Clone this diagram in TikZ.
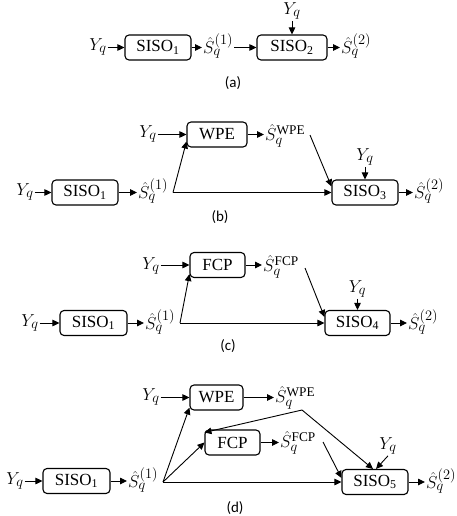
\documentclass[tikz,border=0pt]{standalone}
\usepackage{fontspec}
\setmainfont{Liberation Serif}
\newfontfamily\capfont{Carlito}
\usetikzlibrary{arrows.meta}
\begin{document}
\begin{tikzpicture}[x=1pt,y=-1pt,
 blk/.style={draw, line width=1.1pt, rounded corners=4pt, minimum height=25pt, inner sep=0pt, font=\fontsize{17}{20}\selectfont},
 mth/.style={inner sep=1pt, font=\fontsize{19}{22}\selectfont},
 sublbl/.style={inner sep=0pt, font=\capfont\fontsize{15}{18}\selectfont},
 arr/.style={line width=0.9pt, -{Triangle[length=7pt,width=6.5pt]}}]
\useasboundingbox (0,0) rectangle (456,516);
% (a)
\node[mth] (ya) at (98,47) {$Y_q$};
\node[blk, minimum width=66pt] (s1a) at (158,47.5) {SISO\textsubscript{1}};
\node[mth, anchor=west] (o1a) at (202,46) {$\hat{S}_q^{(1)}$};
\node[blk, minimum width=70pt] (s2a) at (292,47.5) {SISO\textsubscript{2}};
\node[mth] (yta) at (292,11) {$Y_q$};
\node[mth, anchor=west] (o2a) at (340,46) {$\hat{S}_q^{(2)}$};
\node[sublbl] (ca) at (233,83) {(a)};
\draw[arr] (ya.east |- s1a.west) -- (s1a.west);
\draw[arr] (s1a.east) -- (s1a.east -| o1a.west);
\draw[arr] (o1a.east |- s2a.west) -- (s2a.west);
\draw[arr] (yta.south) -- (s2a.north);
\draw[arr] (s2a.east) -- (s2a.east -| o2a.west);
% (b)
\node[mth] (yb) at (25,192) {$Y_q$};
\node[blk, minimum width=66pt] (s1b) at (85,192.5) {SISO\textsubscript{1}};
\node[mth, anchor=west] (o1b) at (137,191) {$\hat{S}_q^{(1)}$};
\coordinate (jb) at (173,192.5);
\node[blk, minimum width=66pt] (s3b) at (365,192.5) {SISO\textsubscript{3}};
\node[mth] (ytb) at (365,157) {$Y_q$};
\node[mth, anchor=west] (o2b) at (413,191) {$\hat{S}_q^{(2)}$};
\node[blk, minimum width=60pt] (wb) at (217,134.5) {WPE};
\node[mth] (ywb) at (148,134) {$Y_q$};
\node[mth, anchor=west] (owb) at (264,136) {$\hat{S}_q^{\mathrm{WPE}}$};
\coordinate (wbo) at (310,135);
\node[sublbl] (cb) at (220,217) {(b)};
\draw[arr] (yb.east |- s1b.west) -- (s1b.west);
\draw[arr] (s1b.east) -- (s1b.east -| o1b.west);
\draw[arr] (jb) -- (s3b.west);
\draw[arr] (jb) -- ([yshift=6pt]wb.south west);
\draw[arr] (ywb.east |- wb.west) -- (wb.west);
\draw[arr] (wb.east) -- (wb.east -| owb.west);
\draw[arr] (wbo) -- ([yshift=-7pt]s3b.north west);
\draw[arr] (ytb.south) -- (s3b.north);
\draw[arr] (s3b.east) -- (s3b.east -| o2b.west);
% (c)
\node[mth] (yc) at (30,323) {$Y_q$};
\node[blk, minimum width=67pt] (s1c) at (93.5,323) {SISO\textsubscript{1}};
\node[mth, anchor=west] (o1c) at (144,322) {$\hat{S}_q^{(1)}$};
\coordinate (jc) at (180,323);
\node[blk, minimum width=65pt] (s4c) at (357.5,323) {SISO\textsubscript{4}};
\node[mth] (ytc) at (357.5,289) {$Y_q$};
\node[mth, anchor=west] (o2c) at (407,322) {$\hat{S}_q^{(2)}$};
\node[blk, minimum width=55pt] (fc) at (217.5,265) {FCP};
\node[mth] (yfc) at (151,266) {$Y_q$};
\node[mth, anchor=west] (ofc) at (262,267) {$\hat{S}_q^{\mathrm{FCP}}$};
\coordinate (fco) at (305,268);
\node[sublbl] (cc) at (228,346) {(c)};
\draw[arr] (yc.east |- s1c.west) -- (s1c.west);
\draw[arr] (s1c.east) -- (s1c.east -| o1c.west);
\draw[arr] (jc) -- (s4c.west);
\draw[arr] (jc) -- ([yshift=4pt]fc.south west);
\draw[arr] (yfc.east |- fc.west) -- (fc.west);
\draw[arr] (fc.east) -- (fc.east -| ofc.west);
\draw[arr] (fco) -- ([yshift=-7pt]s4c.north west);
\draw[arr] (ytc.south) -- (s4c.north);
\draw[arr] (s4c.east) -- (s4c.east -| o2c.west);
% (d)
\node[mth] (yd) at (15,481) {$Y_q$};
\node[blk, minimum width=67pt] (s1d) at (76.5,481) {SISO\textsubscript{1}};
\node[mth, anchor=west] (o1d) at (127,480) {$\hat{S}_q^{(1)}$};
\coordinate (jd) at (163,482);
\node[blk, minimum width=66pt] (s5d) at (375,482) {SISO\textsubscript{5}};
\node[mth, anchor=west] (o2d) at (425,481) {$\hat{S}_q^{(2)}$};
\node[blk, minimum width=53pt] (wd) at (216.5,397.5) {WPE};
\node[mth] (ywd) at (151,397) {$Y_q$};
\node[mth, anchor=west] (owd) at (274,398) {$\hat{S}_q^{\mathrm{WPE}}$};
\node[blk, minimum width=55pt] (fd) at (232.5,442.5) {FCP};
\node[mth, anchor=west] (ofd) at (279,443) {$\hat{S}_q^{\mathrm{FCP}}$};
\coordinate (wdo) at (302,410);
\coordinate (fdo) at (323,442);
\node[mth] (ytd) at (388,446) {$Y_q$};
\node[sublbl] (cd) at (235,508) {(d)};
\draw[arr] (yd.east |- s1d.west) -- (s1d.west);
\draw[arr] (s1d.east) -- (s1d.east -| o1d.west);
\draw[arr] (jd) -- (s5d.west);
\draw[arr] (jd) -- ([yshift=3pt]wd.south west);
\draw[arr] (jd) -- (fd.west);
\draw[arr] (ywd.east |- wd.west) -- (wd.west);
\draw[arr] (wd.east) -- (wd.east -| owd.west);
\draw[arr] (fd.east) -- (fd.east -| ofd.west);
\draw[arr] (wdo) -- ([yshift=-3pt]fd.north west);
\draw[arr] (wdo) -- ([xshift=-2pt]s5d.north);
\draw[arr] (fdo) -- ([yshift=-9pt]s5d.north west);
\draw[arr] (ytd.south) -- ([xshift=1pt]s5d.north);
\draw[arr] (s5d.east) -- (s5d.east -| o2d.west);
\end{tikzpicture}
\end{document}
